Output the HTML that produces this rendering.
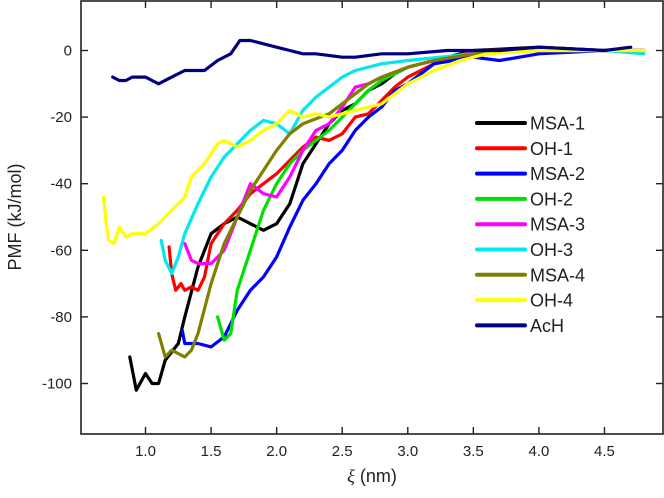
<!DOCTYPE html>
<html><head><meta charset="utf-8"><style>
body{margin:0;background:#fff;}
svg text{font-family:"Liberation Sans",Arial,sans-serif;fill:#222;}
</style></head><body>
<svg id="chart" width="664" height="493" viewBox="0 0 664 493" xmlns="http://www.w3.org/2000/svg">
<g id="axes"></g>
<g id="series"></g>
<g id="legend"></g>
<text x="0" y="0" font-size="18" text-anchor="middle" transform="translate(21,217) rotate(-90)">PMF (kJ/mol)</text>
<text x="372" y="482" font-size="18" text-anchor="middle"><tspan font-style="italic" font-family="Liberation Serif, serif">ξ</tspan> (nm)</text>
</svg>
<script>
const xTicks=[1.0,1.5,2.0,2.5,3.0,3.5,4.0,4.5];
const yTicks=[0,-20,-40,-60,-80,-100];
const seriesNames=["MSA-1","OH-1","MSA-2","OH-2","MSA-3","OH-3","MSA-4","OH-4","AcH"];
const seriesColors=["#000000","#ff0000","#0000ff","#00e000","#ff00ff","#00e8f0","#808000","#ffff00","#000080"];
const msa1=[[0.88,-92],[0.93,-102],[1.0,-97],[1.05,-100],[1.1,-100],[1.15,-93],[1.25,-88],[1.3,-80],[1.4,-65],[1.5,-55],[1.6,-52],[1.7,-50],[1.8,-52],[1.9,-54],[2.0,-52],[2.1,-46],[2.2,-34],[2.3,-28],[2.4,-22],[2.5,-18],[2.6,-16],[2.7,-12],[2.8,-10],[2.9,-7],[3.0,-5],[3.2,-3],[3.5,0],[4.0,1],[4.5,0],[4.7,0]];
const oh1=[[1.18,-59],[1.2,-67],[1.23,-72],[1.27,-70],[1.3,-72],[1.35,-71],[1.4,-72],[1.45,-68],[1.5,-58],[1.6,-52],[1.7,-48],[1.8,-43],[1.9,-40],[2.0,-37],[2.1,-33],[2.2,-29],[2.3,-26],[2.4,-27],[2.5,-25],[2.6,-20],[2.7,-19],[2.8,-15],[2.9,-11],[3.0,-8],[3.2,-4],[3.5,-1],[4.0,1],[4.5,0],[4.8,0]];
const msa2=[[1.28,-84],[1.3,-88],[1.4,-88],[1.5,-89],[1.6,-86],[1.7,-78],[1.8,-72],[1.9,-68],[2.0,-62],[2.1,-53],[2.2,-45],[2.3,-40],[2.4,-34],[2.5,-30],[2.6,-24],[2.7,-20],[2.8,-17],[2.9,-12],[3.0,-10],[3.2,-4],[3.5,-2],[3.7,-3],[4.0,-1],[4.5,0],[4.8,0]];
const oh2=[[1.55,-80],[1.6,-87],[1.65,-85],[1.7,-72],[1.8,-60],[1.9,-48],[2.0,-40],[2.1,-34],[2.2,-30],[2.3,-27],[2.4,-24],[2.5,-20],[2.6,-16],[2.7,-12],[2.8,-9],[3.0,-5],[3.3,-2],[3.6,0],[4.0,0],[4.5,0],[4.8,0]];
const msa3=[[1.3,-58],[1.35,-63],[1.4,-64],[1.5,-64],[1.6,-60],[1.7,-50],[1.8,-40],[1.9,-43],[2.0,-44],[2.1,-38],[2.2,-30],[2.3,-24],[2.4,-22],[2.5,-17],[2.6,-11],[2.7,-10],[2.8,-8],[3.0,-5],[3.3,-2],[3.6,0],[4.0,0],[4.5,0],[4.8,0]];
const oh3=[[1.12,-57],[1.15,-63],[1.2,-67],[1.25,-62],[1.3,-55],[1.4,-46],[1.5,-38],[1.6,-32],[1.7,-28],[1.8,-24],[1.9,-21],[2.0,-22],[2.1,-25],[2.2,-18],[2.3,-14],[2.4,-11],[2.5,-8],[2.6,-6],[2.8,-4],[3.0,-3],[3.5,-1],[4.0,0],[4.5,0],[4.8,-1]];
const msa4=[[1.1,-85],[1.15,-92],[1.2,-90],[1.3,-92],[1.35,-90],[1.4,-85],[1.5,-70],[1.6,-58],[1.7,-50],[1.8,-42],[1.9,-36],[2.0,-30],[2.1,-25],[2.2,-22],[2.4,-19],[2.5,-16],[2.6,-13],[2.7,-10],[2.8,-8],[3.0,-5],[3.2,-3],[3.5,-1],[4.0,0],[4.5,0],[4.8,0]];
const oh4=[[0.68,-44],[0.7,-52],[0.72,-57],[0.76,-58],[0.8,-53],[0.85,-56],[0.9,-55],[1.0,-55],[1.1,-52],[1.2,-48],[1.3,-44],[1.35,-38],[1.45,-34],[1.55,-28],[1.6,-27],[1.7,-29],[1.8,-27],[1.9,-24],[2.0,-22],[2.1,-18],[2.2,-20],[2.3,-19],[2.4,-20],[2.5,-19],[2.6,-18],[2.8,-16],[3.0,-10],[3.2,-6],[3.4,-3],[3.6,-1],[4.0,0],[4.5,0],[4.8,0]];
const ach=[[0.75,-8],[0.8,-9],[0.85,-9],[0.9,-8],[1.0,-8],[1.05,-9],[1.1,-10],[1.2,-8],[1.3,-6],[1.45,-6],[1.55,-3],[1.65,-1],[1.72,3],[1.8,3],[1.9,2],[2.0,1],[2.1,0],[2.2,-1],[2.3,-1],[2.5,-2],[2.6,-2],[2.8,-1],[3.0,-1],[3.3,0],[3.7,0],[4.0,1],[4.5,0],[4.7,1]];
const seriesData=[msa1,oh1,msa2,oh2,msa3,oh3,msa4,oh4,ach];

const NS="http://www.w3.org/2000/svg";
const L=81,R=663,T=1,B=434;
function sx(v){return 145.5+(v-1)*131.14;}
function sy(v){return 50.5-v*3.33;}
function mk(tag,attrs,parent){const e=document.createElementNS(NS,tag);for(const k in attrs)e.setAttribute(k,attrs[k]);parent.appendChild(e);return e;}
const axes=document.getElementById('axes');
const frame=mk('rect',{x:L,y:T,width:R-L,height:B-T,fill:'none',stroke:'#222','stroke-width':1.6},axes);


xTicks.forEach(t=>{
  const x=sx(t);
  const a=mk('line',{x1:x,x2:x,y1:B,y2:B-7,stroke:'#222','stroke-width':1.4},axes);
  
  
  const b=mk('line',{x1:x,x2:x,y1:T,y2:T+7,stroke:'#222','stroke-width':1.4},axes);
  
  
  const tx=mk('text',{x:x,y:456,'font-size':15,'text-anchor':'middle'},axes);
  tx.textContent=t.toFixed(1);
  
  
});
yTicks.forEach(t=>{
  const y=sy(t);
  const a=mk('line',{x1:L,x2:L+7,y1:y,y2:y,stroke:'#222','stroke-width':1.4},axes);
  
  
  const b=mk('line',{x1:R,x2:R-7,y1:y,y2:y,stroke:'#222','stroke-width':1.4},axes);
  
  
  const tx=mk('text',{x:72,y:y+5,'font-size':15,'text-anchor':'end'},axes);
  tx.textContent=String(t);
  
  
});
const sg=document.getElementById('series');
seriesData.forEach((d,i)=>{
  const p=mk('polyline',{points:d.map(q=>sx(q[0]).toFixed(1)+','+sy(q[1]).toFixed(1)).join(' '),fill:'none',stroke:seriesColors[i],'stroke-width':3.2,'stroke-linejoin':'round','stroke-linecap':'round'},sg);
  
  
});
const lg=document.getElementById('legend');
seriesNames.forEach((n,i)=>{
  const y=123+i*25.3;
  const ln=mk('line',{x1:477,x2:525,y1:y,y2:y,stroke:seriesColors[i],'stroke-width':4,'stroke-linecap':'round'},lg);
  
  
  const tx=mk('text',{x:530,y:y+6.5,'font-size':18},lg);
  tx.textContent=n;
  
  
});
</script>
</body></html>
